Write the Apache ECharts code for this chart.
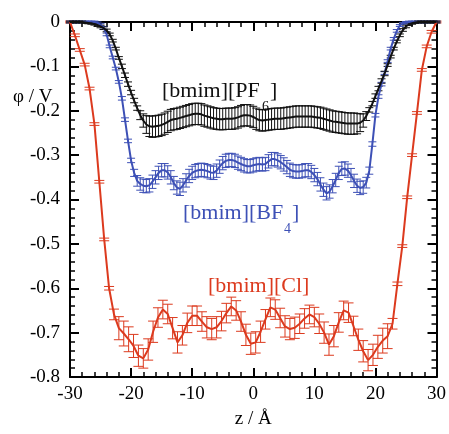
<!DOCTYPE html>
<html>
<head>
<meta charset="utf-8">
<script src="https://cdn.jsdelivr.net/npm/echarts@6/dist/echarts.min.js"></script>
<style>
  html, body { margin: 0; padding: 0; background: #fff; }
  #chart { width: 449px; height: 434px; }
</style>
</head>
<body>
<div id="chart"></div>
<script>
// sample positions (z / Å) shared by the [PF6] and [BF4] curves
var zGrid = [-30,-29.5,-29,-28.5,-28,-27.5,-27,-26.5,-26,-25.5,-25,-24.5,-24,-23.5,-23,-22.5,-22,-21.5,-21,-20.5,
  -20,-19.5,-19,-18.5,-18,-17.5,-17,-16.5,-16,-15.5,-15,-14.5,-14,-13.5,-13,-12.5,-12,-11.5,-11,-10.5,
  -10,-9.5,-9,-8.5,-8,-7.5,-7,-6.5,-6,-5.5,-5,-4.5,-4,-3.5,-3,-2.5,-2,-1.5,-1,-0.5,
  0,0.5,1,1.5,2,2.5,3,3.5,4,4.5,5,5.5,6,6.5,7,7.5,8,8.5,9,9.5,
  10,10.5,11,11.5,12,12.5,13,13.5,14,14.5,15,15.5,16,16.5,17,17.5,18,18.5,19,19.5,
  20,20.5,21,21.5,22,22.5,23,23.5,24,24.5,25,25.5,26,26.5,27,27.5,28,28.5,29,29.5,30];

var pf6Phi = [0,0,0,0,0,-0.001,-0.002,-0.003,-0.005,-0.007,-0.010,-0.014,-0.019,-0.028,-0.042,-0.060,-0.081,-0.100,-0.120,-0.140,
  -0.159,-0.177,-0.194,-0.210,-0.222,-0.231,-0.235,-0.236,-0.235,-0.234,-0.232,-0.229,-0.225,-0.221,-0.219,-0.218,-0.216,-0.214,-0.212,-0.210,
  -0.208,-0.207,-0.207,-0.208,-0.211,-0.213,-0.215,-0.217,-0.218,-0.219,-0.219,-0.218,-0.218,-0.218,-0.217,-0.215,-0.212,-0.210,-0.210,-0.211,
  -0.214,-0.218,-0.221,-0.222,-0.221,-0.220,-0.219,-0.218,-0.218,-0.218,-0.217,-0.216,-0.215,-0.214,-0.213,-0.213,-0.213,-0.213,-0.213,-0.213,
  -0.214,-0.215,-0.216,-0.218,-0.220,-0.222,-0.224,-0.225,-0.226,-0.227,-0.228,-0.229,-0.229,-0.229,-0.229,-0.227,-0.222,-0.212,-0.198,-0.184,
  -0.167,-0.150,-0.133,-0.116,-0.097,-0.078,-0.060,-0.044,-0.030,-0.018,-0.010,-0.005,-0.003,-0.001,0,0,0,0,0,0,0];

var pf6Err = [0.002,0.002,0.002,0.002,0.002,0.002,0.002,0.002,0.002,0.003,0.003,0.003,0.003,0.003,0.003,0.003,0.003,0.005,0.005,0.005,
  0.005,0.005,0.005,0.010,0.015,0.020,0.023,0.024,0.024,0.024,0.024,0.024,0.024,0.024,0.024,0.024,0.024,0.024,0.024,0.024,
  0.024,0.024,0.024,0.024,0.024,0.024,0.024,0.024,0.024,0.024,0.024,0.024,0.024,0.024,0.024,0.024,0.024,0.024,0.024,0.024,
  0.024,0.024,0.024,0.024,0.024,0.024,0.024,0.024,0.024,0.024,0.024,0.024,0.024,0.024,0.024,0.024,0.024,0.024,0.024,0.024,
  0.024,0.024,0.024,0.024,0.024,0.024,0.024,0.024,0.024,0.024,0.024,0.024,0.024,0.024,0.023,0.020,0.015,0.010,0.005,0.005,
  0.005,0.005,0.005,0.005,0.003,0.003,0.003,0.003,0.003,0.003,0.003,0.003,0.002,0.002,0.002,0.002,0.002,0.002,0.002,0.002,0.002];

var bf4Phi = [0,0,0,0,0,0,0,0,0,-0.002,-0.006,-0.013,-0.028,-0.055,-0.080,-0.105,-0.135,-0.172,-0.220,-0.268,
  -0.312,-0.340,-0.358,-0.365,-0.369,-0.370,-0.368,-0.360,-0.350,-0.340,-0.334,-0.334,-0.339,-0.350,-0.363,-0.373,-0.376,-0.368,-0.357,-0.347,
  -0.340,-0.336,-0.334,-0.333,-0.334,-0.336,-0.339,-0.340,-0.335,-0.326,-0.318,-0.313,-0.311,-0.311,-0.313,-0.317,-0.320,-0.323,-0.325,-0.325,
  -0.323,-0.321,-0.320,-0.321,-0.320,-0.314,-0.309,-0.309,-0.312,-0.316,-0.321,-0.327,-0.333,-0.336,-0.337,-0.337,-0.336,-0.334,-0.334,-0.338,
  -0.345,-0.354,-0.366,-0.378,-0.386,-0.382,-0.370,-0.356,-0.340,-0.331,-0.330,-0.335,-0.345,-0.358,-0.369,-0.374,-0.372,-0.362,-0.335,-0.275,
  -0.210,-0.168,-0.140,-0.115,-0.088,-0.060,-0.038,-0.020,-0.008,-0.003,-0.001,0,0,0,0,0,0,0,0,0,0];

var bf4Err = [0.002,0.002,0.002,0.002,0.002,0.002,0.002,0.002,0.002,0.002,0.003,0.003,0.003,0.003,0.003,0.003,0.003,0.004,0.004,0.004,
  0.005,0.008,0.012,0.014,0.015,0.015,0.015,0.015,0.015,0.015,0.015,0.015,0.015,0.015,0.015,0.015,0.015,0.015,0.015,0.015,
  0.015,0.015,0.015,0.015,0.015,0.015,0.015,0.015,0.015,0.015,0.015,0.015,0.015,0.015,0.015,0.015,0.015,0.015,0.015,0.015,
  0.015,0.015,0.015,0.015,0.015,0.015,0.015,0.015,0.015,0.015,0.015,0.015,0.015,0.015,0.015,0.015,0.015,0.015,0.015,0.015,
  0.015,0.015,0.015,0.015,0.015,0.015,0.015,0.015,0.015,0.015,0.015,0.015,0.015,0.015,0.015,0.015,0.014,0.012,0.008,0.005,
  0.004,0.004,0.004,0.003,0.003,0.003,0.003,0.003,0.002,0.002,0.002,0.002,0.002,0.002,0.002,0.002,0.002,0.002,0.002,0.002,0.002];

var clZ = [-30,-29.2,-28.4,-27.6,-26.8,-26.0,-25.2,-24.4,-23.6,-22.8,-22.0,-21.2,-20.4,-19.6,-18.8,-18.0,-17.2,-16.4,-15.6,-14.8,
  -14.0,-13.2,-12.4,-11.6,-10.8,-10.0,-9.2,-8.4,-7.6,-6.8,-6.0,-5.2,-4.4,-3.6,-2.8,-2.0,-1.2,-0.4,0.4,1.2,
  2.0,2.8,3.6,4.4,5.2,6.0,6.8,7.6,8.4,9.2,10.0,10.8,11.6,12.4,13.2,14.0,14.8,15.6,16.4,17.2,
  18.0,18.8,19.6,20.4,21.2,22.0,22.8,23.6,24.4,25.2,26.0,26.8,27.6,28.4,29.2,30.0];

var clPhi = [0,-0.030,-0.063,-0.096,-0.150,-0.230,-0.360,-0.490,-0.600,-0.659,-0.690,-0.702,-0.715,-0.730,-0.752,-0.758,-0.738,-0.698,-0.666,-0.648,
  -0.658,-0.690,-0.722,-0.706,-0.678,-0.662,-0.662,-0.675,-0.688,-0.692,-0.688,-0.674,-0.656,-0.641,-0.650,-0.675,-0.705,-0.725,-0.722,-0.698,
  -0.670,-0.643,-0.648,-0.667,-0.686,-0.692,-0.689,-0.680,-0.668,-0.659,-0.665,-0.680,-0.700,-0.727,-0.708,-0.677,-0.650,-0.655,-0.685,-0.716,
  -0.742,-0.762,-0.750,-0.732,-0.718,-0.708,-0.680,-0.590,-0.505,-0.395,-0.300,-0.205,-0.108,-0.055,-0.022,0];

var clErr = [0.002,0.003,0.003,0.003,0.003,0.003,0.003,0.003,0.004,0.012,0.026,0.028,0.028,0.026,0.024,0.022,0.024,0.024,0.022,0.021,
  0.022,0.024,0.024,0.022,0.022,0.022,0.022,0.022,0.024,0.024,0.024,0.022,0.022,0.021,0.022,0.022,0.024,0.024,0.024,0.024,
  0.022,0.021,0.022,0.022,0.024,0.024,0.024,0.022,0.022,0.021,0.022,0.022,0.024,0.024,0.024,0.022,0.021,0.022,0.022,0.024,
  0.024,0.024,0.024,0.026,0.028,0.028,0.012,0.004,0.003,0.003,0.003,0.003,0.003,0.003,0.003,0.002];

var xTicks = [-30, -20, -10, 0, 10, 20, 30];
var yTicks = [0, -0.1, -0.2, -0.3, -0.4, -0.5, -0.6, -0.7, -0.8];

var RED = '#dc3a1e', BLUE = '#3d50b6', BLACK = '#111111';
var SERIF = '"Liberation Serif", "DejaVu Serif", serif';

function pairs(xs, ys, es) {
  var out = [];
  for (var i = 0; i < xs.length; i++) out.push([xs[i], ys[i], es[i]]);
  return out;
}

function errBars(color, cap) {
  return function (params, api) {
    var x = api.value(0), y = api.value(1), e = api.value(2);
    var t = api.coord([x, y + e]), b = api.coord([x, y - e]);
    var st = { stroke: color, lineWidth: 1 };
    return {
      type: 'group',
      children: [
        { type: 'line', shape: { x1: t[0], y1: t[1], x2: b[0], y2: b[1] }, style: st },
        { type: 'line', shape: { x1: t[0] - cap, y1: t[1], x2: t[0] + cap, y2: t[1] }, style: st },
        { type: 'line', shape: { x1: b[0] - cap, y1: b[1], x2: b[0] + cap, y2: b[1] }, style: st }
      ]
    };
  };
}

var axisLine = { show: true, onZero: false, lineStyle: { color: '#000', width: 2 } };
var tickIn = { show: true, inside: true, length: 9, lineStyle: { color: '#000', width: 2 } };
var minorIn = { show: true, splitNumber: 5, length: 5, lineStyle: { color: '#000', width: 1.5 } };

var chart = echarts.init(document.getElementById('chart'));
chart.setOption({
  animation: false,
  backgroundColor: '#fff',
  grid: { left: 70, right: 11, top: 22, bottom: 40 },
  xAxis: [{
    type: 'value', position: 'bottom', min: -30, max: 30, interval: 10,
    axisLine: axisLine, axisTick: tickIn, minorTick: minorIn,
    splitLine: { show: false },
    axisLabel: {
      margin: 8, color: '#000', fontFamily: SERIF, fontSize: 19,
      formatter: function (v) { return xTicks.indexOf(v) >= 0 ? String(v) : ''; }
    },
    name: 'z / Å', nameLocation: 'middle', nameGap: 33,
    nameTextStyle: { color: '#000', fontFamily: SERIF, fontSize: 19 }
  }, {
    type: 'value', position: 'top', min: -30, max: 30, interval: 10,
    axisLine: axisLine, axisTick: tickIn, minorTick: minorIn,
    splitLine: { show: false }, axisLabel: { show: false }
  }],
  yAxis: [{
    type: 'value', position: 'left', min: -0.8, max: 0, interval: 0.1,
    axisLine: axisLine, axisTick: tickIn, minorTick: minorIn,
    splitLine: { show: false },
    axisLabel: {
      margin: 10, color: '#000', fontFamily: SERIF, fontSize: 19,
      formatter: function (v) {
        var r = Math.round(v * 10) / 10;
        return r === 0 ? '0' : r.toFixed(1);
      }
    }
  }, {
    type: 'value', position: 'right', min: -0.8, max: 0, interval: 0.1,
    axisLine: axisLine, axisTick: tickIn, minorTick: minorIn,
    splitLine: { show: false }, axisLabel: { show: false }
  }],
  graphic: [
    { type: 'text', left: 13, top: 88, style: { text: 'φ / V', fill: '#000', font: '19px ' + SERIF } },
    { type: 'text', x: 162, y: 91.5, style: { text: '[bmim][PF', fill: BLACK, font: '22px ' + SERIF, verticalAlign: 'middle' } },
    { type: 'text', x: 262, y: 107, style: { text: '6', fill: BLACK, font: '14px ' + SERIF, verticalAlign: 'middle' } },
    { type: 'text', x: 270, y: 91.5, style: { text: ']', fill: BLACK, font: '22px ' + SERIF, verticalAlign: 'middle' } },
    { type: 'text', x: 183, y: 213.5, style: { text: '[bmim][BF', fill: BLUE, font: '22px ' + SERIF, verticalAlign: 'middle' } },
    { type: 'text', x: 284, y: 229, style: { text: '4', fill: BLUE, font: '14px ' + SERIF, verticalAlign: 'middle' } },
    { type: 'text', x: 292, y: 213.5, style: { text: ']', fill: BLUE, font: '22px ' + SERIF, verticalAlign: 'middle' } },
    { type: 'text', x: 208, y: 286.5, style: { text: '[bmim][Cl]', fill: RED, font: '22px ' + SERIF, verticalAlign: 'middle' } }
  ],
  series: [
    { type: 'custom', renderItem: errBars(RED, 5), data: pairs(clZ, clPhi, clErr), encode: { x: 0, y: 1 }, z: 2 },
    { type: 'line', data: pairs(clZ, clPhi, clErr), showSymbol: false, lineStyle: { color: RED, width: 2 }, z: 3 },
    { type: 'custom', renderItem: errBars(BLUE, 4), data: pairs(zGrid, bf4Phi, bf4Err), encode: { x: 0, y: 1 }, z: 2 },
    { type: 'line', data: pairs(zGrid, bf4Phi, bf4Err), showSymbol: false, lineStyle: { color: BLUE, width: 2 }, z: 3 },
    { type: 'custom', renderItem: errBars(BLACK, 4), data: pairs(zGrid, pf6Phi, pf6Err), encode: { x: 0, y: 1 }, z: 2 },
    { type: 'line', data: pairs(zGrid, pf6Phi, pf6Err), showSymbol: false, lineStyle: { color: BLACK, width: 2 }, z: 3 }
  ]
});
</script>
</body>
</html>
